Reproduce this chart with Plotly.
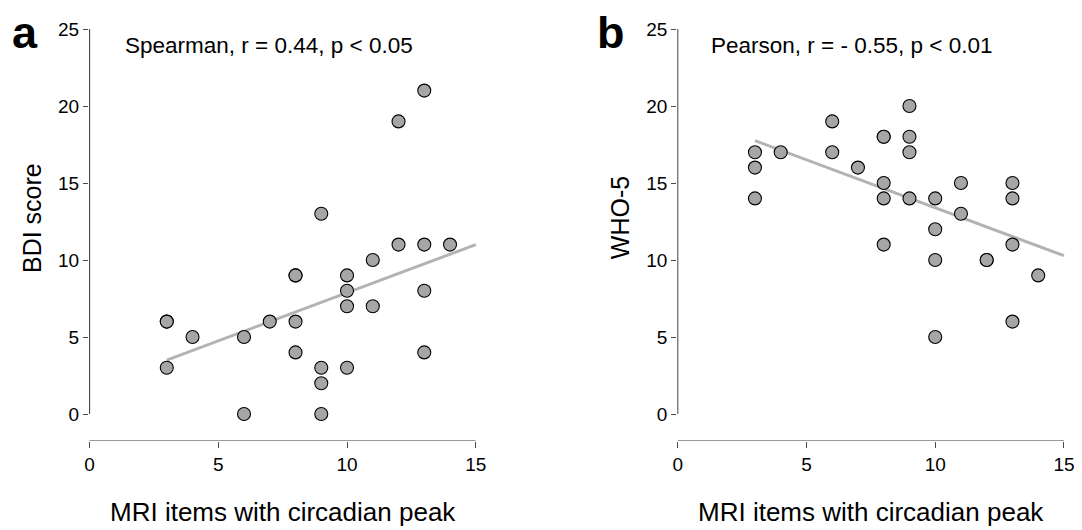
import plotly.graph_objects as go

# ---- data ----
a_x = [3, 3, 3, 4, 6, 6, 7, 8, 8, 8, 8, 9, 9, 9, 9, 10, 10, 10, 10, 11, 11, 12, 12, 13, 13, 13, 13, 14]
a_y = [6, 6, 3, 5, 5, 0, 6, 9, 9, 6, 4, 13, 3, 2, 0, 9, 8, 7, 3, 10, 7, 19, 11, 21, 11, 8, 4, 11]
a_fit_x = [3, 15]
a_fit_y = [3.5, 11.0]

b_x = [3, 3, 3, 4, 6, 6, 7, 8, 8, 8, 8, 8, 9, 9, 9, 9, 10, 10, 10, 10, 11, 11, 12, 12, 13, 13, 13, 13, 14]
b_y = [17, 16, 14, 17, 19, 17, 16, 18, 18, 15, 14, 11, 20, 18, 17, 14, 14, 12, 10, 5, 15, 13, 10, 10, 15, 14, 11, 6, 9]
b_fit_x = [3, 15]
b_fit_y = [17.75, 10.28]

x_ticks = [0, 5, 10, 15]
y_ticks = [0, 5, 10, 15, 20, 25]

panel_letters = ["a", "b"]
stat_texts = ["Spearman, r = 0.44, p < 0.05", "Pearson, r = - 0.55, p < 0.01"]
y_titles = ["BDI score", "WHO-5"]
x_title = "MRI items with circadian peak"

FONT = "Liberation Sans, Arial, Helvetica, sans-serif"
W, H = 1082, 530
AXC = "#4a4a4a"
PT_FILL = "#a6a6a6"
FIT_C = "#b3b3b3"

# pixel geometry
px_per_x = 25.75
px_per_y = 15.4
left_px = [89.0, 677.2]
x_range = [-0.02, 15.6]
y_range = [-1.74, 26]
y0_px = 414.0
bottom_px = y0_px - y_range[0] * px_per_y
top_px = y0_px - y_range[1] * px_per_y
line_x = 0.0
line_y = y_range[0]

fig = go.Figure()

for i, (xs, ys, fx, fy) in enumerate([(a_x, a_y, a_fit_x, a_fit_y), (b_x, b_y, b_fit_x, b_fit_y)]):
    xa = "x" if i == 0 else "x2"
    ya = "y" if i == 0 else "y2"
    # detached R-style axis lines
    fig.add_trace(go.Scatter(x=[line_x, line_x], y=[y_ticks[0], y_ticks[-1]], mode="lines",
                             line=dict(color=AXC, width=1.2), cliponaxis=False,
                             xaxis=xa, yaxis=ya, showlegend=False, hoverinfo="skip"))
    fig.add_trace(go.Scatter(x=[x_ticks[0], x_ticks[-1]], y=[line_y, line_y], mode="lines",
                             line=dict(color=AXC, width=1.2), cliponaxis=False,
                             xaxis=xa, yaxis=ya, showlegend=False, hoverinfo="skip"))
    fig.add_trace(go.Scatter(x=fx, y=fy, mode="lines", line=dict(color=FIT_C, width=3),
                             xaxis=xa, yaxis=ya, showlegend=False, hoverinfo="skip"))
    fig.add_trace(go.Scatter(x=xs, y=ys, mode="markers",
                             marker=dict(size=13, color=PT_FILL, line=dict(color="black", width=1.1)),
                             xaxis=xa, yaxis=ya, showlegend=False))


def xdom(lp):
    return [lp / W, (lp + (x_range[1] - x_range[0]) * px_per_x) / W]

ydom = [(H - bottom_px) / H, (H - top_px) / H]

axis_common = dict(showgrid=False, zeroline=False, showline=False, ticks="outside",
                   tickcolor=AXC, tickwidth=1, tickfont=dict(family=FONT, size=19, color="black"),
                   automargin=False)

fig.update_layout(
    width=W, height=H,
    margin=dict(l=0, r=0, t=0, b=0),
    paper_bgcolor="white", plot_bgcolor="white",
    font=dict(family=FONT, color="black"),
    xaxis=dict(domain=xdom(left_px[0]), range=x_range, tickvals=x_ticks, ticklen=6, anchor="y", **axis_common),
    yaxis=dict(domain=ydom, range=y_range, tickvals=y_ticks, ticklen=5, anchor="x", **axis_common),
    xaxis2=dict(domain=xdom(left_px[1]), range=x_range, tickvals=x_ticks, ticklen=6, anchor="y2", **axis_common),
    yaxis2=dict(domain=ydom, range=y_range, tickvals=y_ticks, ticklen=5, anchor="x2", **axis_common),
)

annotations = []
for i in range(2):
    off = left_px[i] - left_px[0]
    annotations.append(dict(text=stat_texts[i], xref="paper", yref="paper",
                            x=(123 + off - (0 if i == 0 else 2)) / W, y=(H - 46) / H, xanchor="left", yanchor="middle",
                            showarrow=False, font=dict(family=FONT, size=22.5, color="black")))
    annotations.append(dict(text="<b>" + panel_letters[i] + "</b>", xref="paper", yref="paper",
                            x=(25 + off + (0 if i == 0 else -2)) / W, y=(H - 33) / H, xanchor="center", yanchor="middle",
                            showarrow=False, font=dict(family=FONT, size=45, color="black")))
    annotations.append(dict(text=y_titles[i], xref="paper", yref="paper",
                            x=(32 + off) / W, y=(H - 218) / H, xanchor="center", yanchor="middle",
                            textangle=-90, showarrow=False, font=dict(family=FONT, size=25, color="black")))
    annotations.append(dict(text=x_title, xref="paper", yref="paper",
                            x=(283 + off) / W, y=(H - 512) / H, xanchor="center", yanchor="middle",
                            showarrow=False, font=dict(family=FONT, size=26, color="black")))

fig.update_layout(annotations=annotations)
fig.write_html("out.html")
